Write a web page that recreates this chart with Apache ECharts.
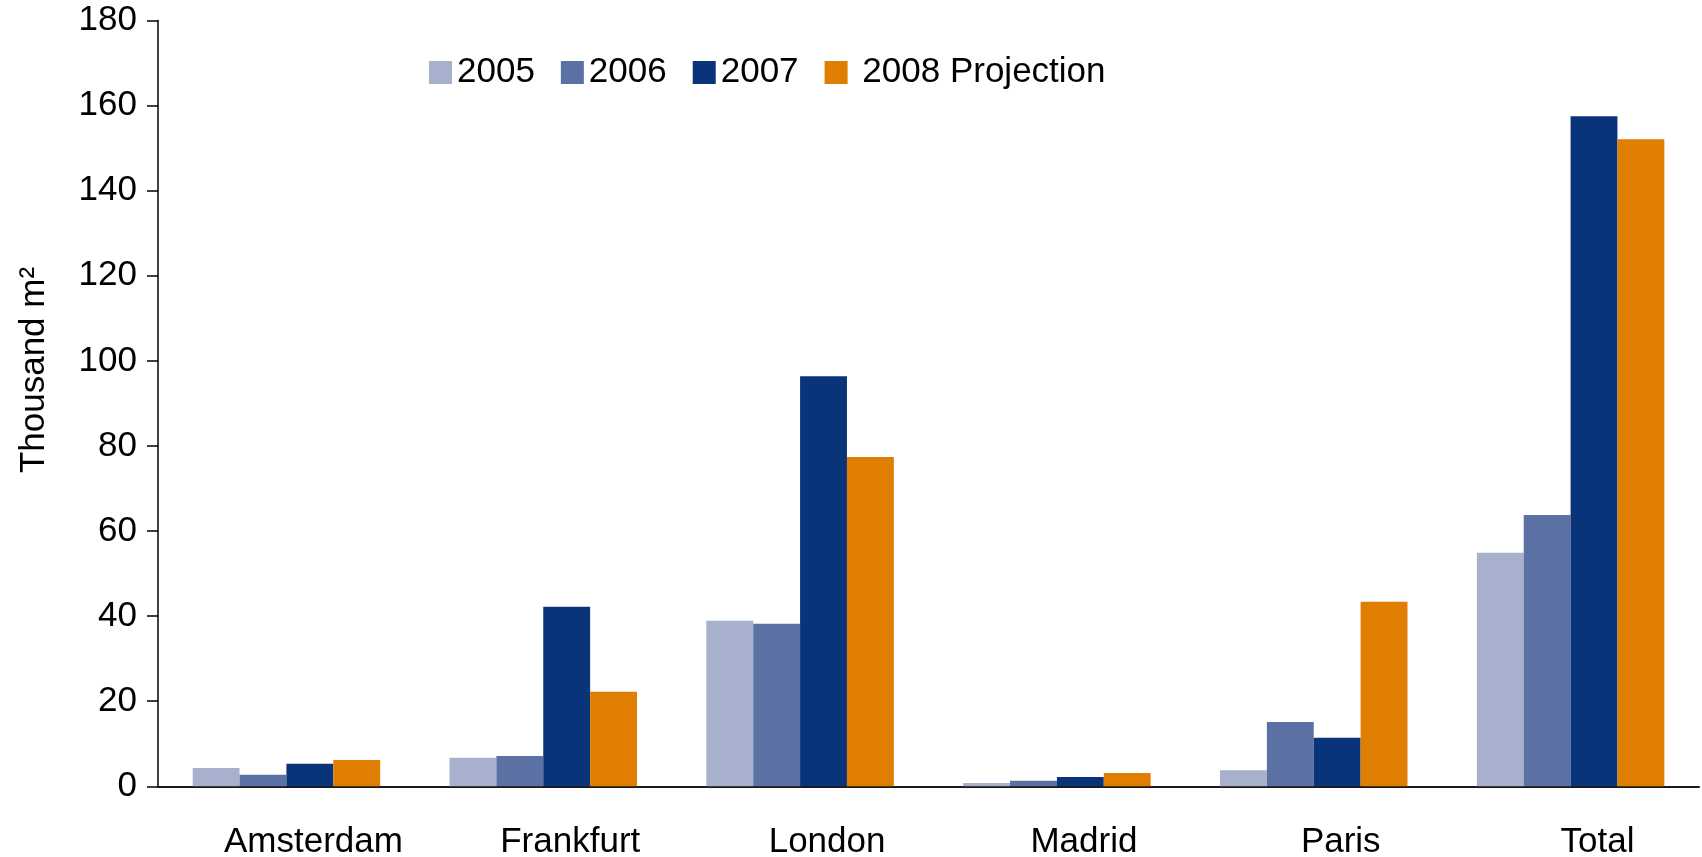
<!DOCTYPE html>
<html>
<head>
<meta charset="utf-8">
<title>Office take-up by city</title>
<script src="https://cdn.jsdelivr.net/npm/echarts@6/dist/echarts.min.js"></script>
<style>
  html, body { margin: 0; padding: 0; background: #ffffff; }
  #chart { width: 1702px; height: 857px; }
</style>
</head>
<body>
<div id="chart"></div>
<script>
// Categories and yearly values (thousand m²)
const cities = ['Amsterdam', 'Frankfurt', 'London', 'Madrid', 'Paris', 'Total'];
const seriesNames = ['2005', '2006', '2007', '2008 Projection'];
const values2005 = [4.3, 6.7, 38.9, 0.8, 3.8, 54.9];
const values2006 = [2.7, 7.1, 38.2, 1.3, 15.1, 63.8];
const values2007 = [5.3, 42.2, 96.4, 2.2, 11.4, 157.5];
const values2008 = [6.2, 22.2, 77.4, 3.1, 43.4, 152.1];
const yTicks = { min: 0, max: 180, interval: 20 };

const colors = ['#A7B0CD', '#5B70A3', '#0A347A', '#DF7E00'];
const font = "'Liberation Sans', Arial, Helvetica, sans-serif";
const fontSize = 35;
const allValues = [values2005, values2006, values2007, values2008];

const chart = echarts.init(document.getElementById('chart'), null, { renderer: 'canvas' });

chart.setOption({
  animation: false,
  backgroundColor: '#ffffff',
  color: colors,
  textStyle: { fontFamily: font },
  grid: {
    left: 158, right: 3, top: 20.6, bottom: 70.7,
    containLabel: false,
    outerBoundsMode: 'none'
  },
  legend: {
    left: 424,
    top: 50,
    itemWidth: 23,
    itemHeight: 23,
    itemGap: 26,
    icon: 'rect',
    data: seriesNames,
    formatter: function (name) {
      return name === '2008 Projection' ? ' ' + name : name;
    },
    textStyle: { fontFamily: font, fontSize: fontSize, lineHeight: 35, color: '#000' }
  },
  graphic: [{
    type: 'text',
    x: 34,
    y: 370,
    rotation: Math.PI / 2,
    style: {
      text: 'Thousand m²',
      font: fontSize + 'px ' + font,
      fill: '#000',
      align: 'center',
      verticalAlign: 'middle'
    }
  }],
  xAxis: {
    type: 'category',
    data: cities,
    boundaryGap: true,
    axisLine: { show: true, lineStyle: { color: '#1a1a1a', width: 2 } },
    axisTick: { show: false },
    axisLabel: {
      fontFamily: font,
      fontSize: fontSize,
      lineHeight: 35,
      color: '#000',
      margin: 39,
      padding: [0, 0, 0, 54]
    },
    splitLine: { show: false }
  },
  yAxis: {
    type: 'value',
    min: yTicks.min,
    max: yTicks.max,
    interval: yTicks.interval,
    axisLine: { show: true, lineStyle: { color: '#000', width: 1.5 } },
    axisTick: { show: true, inside: false, length: 11, lineStyle: { color: '#000', width: 1.5 } },
    axisLabel: { fontFamily: font, fontSize: fontSize, color: '#000', margin: 21 },
    splitLine: { show: false }
  },
  series: seriesNames.map(function (name, i) {
    return {
      name: name,
      type: 'bar',
      data: allValues[i],
      barGap: '0%',
      barCategoryGap: '27%',
      itemStyle: { color: colors[i] }
    };
  })
});
</script>
</body>
</html>
